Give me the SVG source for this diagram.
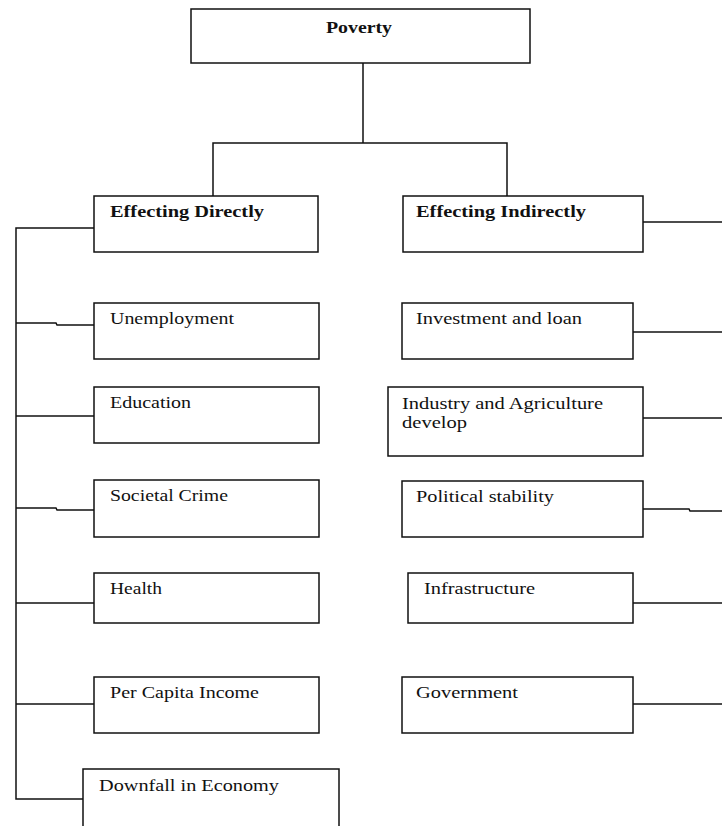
<svg xmlns="http://www.w3.org/2000/svg" width="722" height="826" viewBox="0 0 722 826">
<style>
.box{fill:#fff;stroke:#111;stroke-width:1.5}
.c{fill:none;stroke:#111;stroke-width:1.5}
text{font-family:"Liberation Serif","Times New Roman",serif;font-size:16px;fill:#111}
.b{font-weight:bold}
</style>
<rect width="722" height="826" fill="#fff"/>
<g id="connectors">
<path class="c" d="M363 63V143M213 196V143H507V196"/>
<path class="c" d="M94 228H16V799H83"/>
<path class="c" d="M16 323H56L57 325H94"/>
<path class="c" d="M16 416H94"/>
<path class="c" d="M16 508H56L57 510H94"/>
<path class="c" d="M16 603H94"/>
<path class="c" d="M16 704H94"/>
<path class="c" d="M643 222H722"/>
<path class="c" d="M633 332H722"/>
<path class="c" d="M643 418H722"/>
<path class="c" d="M643 509H689L690 511H722"/>
<path class="c" d="M633 603H722"/>
<path class="c" d="M633 704H722"/>
</g>
<g id="poverty"><rect class="box" x="191" y="9" width="339" height="54"/><text class="b" x="326" y="33" textLength="66" lengthAdjust="spacingAndGlyphs">Poverty</text></g>
<g id="direct"><rect class="box" x="94" y="196" width="224" height="56"/><text class="b" x="110" y="217" textLength="154" lengthAdjust="spacingAndGlyphs">Effecting Directly</text></g>
<g id="indirect"><rect class="box" x="403" y="196" width="240" height="56"/><text class="b" x="416" y="217" textLength="170" lengthAdjust="spacingAndGlyphs">Effecting Indirectly</text></g>
<g id="unemployment"><rect class="box" x="94" y="303" width="225" height="56"/><text x="110" y="324" textLength="124" lengthAdjust="spacingAndGlyphs">Unemployment</text></g>
<g id="education"><rect class="box" x="94" y="387" width="225" height="56"/><text x="110" y="408" textLength="81" lengthAdjust="spacingAndGlyphs">Education</text></g>
<g id="societal"><rect class="box" x="94" y="480" width="225" height="57"/><text x="110" y="501" textLength="118" lengthAdjust="spacingAndGlyphs">Societal Crime</text></g>
<g id="health"><rect class="box" x="94" y="573" width="225" height="50"/><text x="110" y="594" textLength="52" lengthAdjust="spacingAndGlyphs">Health</text></g>
<g id="percapita"><rect class="box" x="94" y="677" width="225" height="56"/><text x="110" y="698" textLength="149" lengthAdjust="spacingAndGlyphs">Per Capita Income</text></g>
<g id="downfall"><rect class="box" x="83" y="769" width="256" height="70"/><text x="99" y="791" textLength="180" lengthAdjust="spacingAndGlyphs">Downfall in Economy</text></g>
<g id="investment"><rect class="box" x="402" y="303" width="231" height="56"/><text x="416" y="324" textLength="166" lengthAdjust="spacingAndGlyphs">Investment and loan</text></g>
<g id="industry"><rect class="box" x="388" y="387" width="255" height="69"/><text x="402" y="409" textLength="201" lengthAdjust="spacingAndGlyphs">Industry and Agriculture</text><text x="402" y="428" textLength="65" lengthAdjust="spacingAndGlyphs">develop</text></g>
<g id="political"><rect class="box" x="402" y="481" width="241" height="56"/><text x="416" y="502" textLength="138" lengthAdjust="spacingAndGlyphs">Political stability</text></g>
<g id="infrastructure"><rect class="box" x="408" y="573" width="225" height="50"/><text x="424" y="594" textLength="111" lengthAdjust="spacingAndGlyphs">Infrastructure</text></g>
<g id="government"><rect class="box" x="402" y="677" width="231" height="56"/><text x="416" y="698" textLength="102" lengthAdjust="spacingAndGlyphs">Government</text></g>
</svg>
